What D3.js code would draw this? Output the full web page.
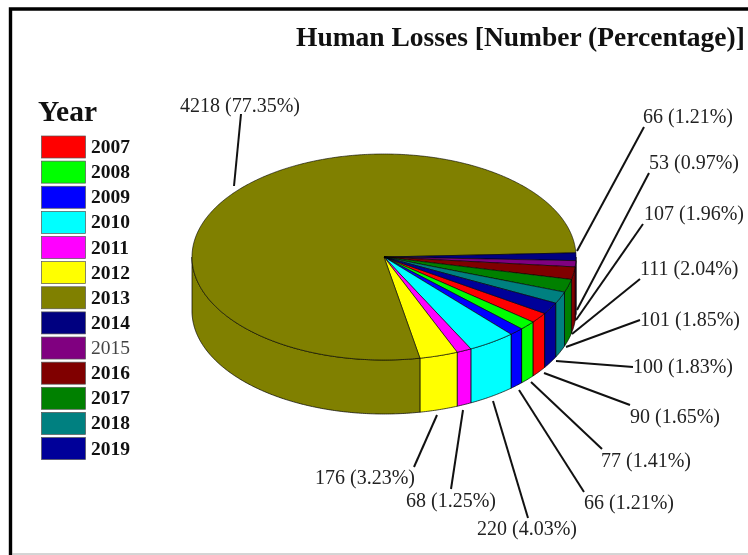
<!DOCTYPE html>
<html>
<head>
<meta charset="utf-8">
<script src="https://cdnjs.cloudflare.com/ajax/libs/d3/7.8.5/d3.min.js"></script>
<style>
  html, body { margin: 0; background: #fff; }
  svg { display: block; filter: blur(0.35px); }
  text { font-family: "Liberation Serif", serif; }
</style>
</head>
<body>
<div id="chart"></div>
<script>
const years = ["2007", "2008", "2009", "2010", "2011", "2012", "2013", "2014", "2015", "2016", "2017", "2018", "2019"];
const losses = [90, 77, 66, 220, 68, 176, 4218, 66, 53, 107, 111, 101, 100];
const percents = ["1.65", "1.41", "1.21", "4.03", "1.25", "3.23", "77.35", "1.21", "0.97", "1.96", "2.04", "1.85", "1.83"];
const colors = ["#ff0000", "#00ff00", "#0000ff", "#00ffff", "#ff00ff", "#ffff00", "#808000", "#000080", "#800080", "#800000", "#008000", "#008080", "#000099"];

// label anchor (text start, baseline) and the outer and inner end of each leader
const label_pos = [[630, 423], [601, 467], [584, 509], [477, 535], [406, 507], [315, 484], [180, 112], [643, 123], [649, 169], [644, 220], [640, 275], [640, 326], [633, 373]];
const leader_out = [[630, 405], [602, 449], [584, 492], [528, 518], [451, 489], [414, 467], [241, 114], [644, 127], [649, 173], [643, 224], [640, 279], [640, 320], [633, 367]];
const leader_in = [[544, 373], [531, 382], [519, 390], [493, 401], [463, 410], [437, 415], [234, 186], [577, 251], [577, 310], [576, 320], [572, 334], [566, 347], [556, 361]];

const width = 748;
const height = 555;
const cx = 384;
const cy = 257;
const rx = 192;
const ry = 103;
const depth = 54;

const svg = d3.select("#chart")
  .append("svg")
  .attr("width", width)
  .attr("height", height);

svg.append("rect").attr("width", width).attr("height", height).attr("fill", "#fff");

// frame
svg.append("path")
  .attr("d", d3.line()([[10.5, height], [10.5, 9], [width, 9]]))
  .attr("fill", "none")
  .attr("stroke", "#000")
  .attr("stroke-width", 3.4);
svg.append("line")
  .attr("x1", 12).attr("x2", width)
  .attr("y1", 554).attr("y2", 554)
  .attr("stroke", "#aaa");

// pie, squashed into an ellipse by hand
const pie = d3.pie()
  .sort(null)
  .startAngle(123.2 * Math.PI / 180)
  .endAngle((123.2 + 360) * Math.PI / 180);
const slices = pie(losses);

const px = (a) => cx + rx * Math.sin(a);
const py = (a) => cy - ry * Math.cos(a);

const sample = (a0, a1) => {
  const n = Math.max(2, Math.ceil((a1 - a0) / 0.01));
  return d3.range(n + 1).map((i) => a0 + (a1 - a0) * i / n);
};

const wall = d3.area().x(px).y0(py).y1((a) => py(a) + depth);
const face = d3.line();

// front half of the side only
const front_start = Math.PI / 2;
const front_end = Math.PI * 1.5;

const wall_parts = [];
slices.forEach((s, i) => {
  for (const turn of [0, Math.PI * 2]) {
    const a0 = Math.max(s.startAngle, front_start + turn);
    const a1 = Math.min(s.endAngle, front_end + turn);
    if (a1 > a0) wall_parts.push({ i, a0, a1 });
  }
});

svg.append("g")
  .selectAll("path")
  .data(wall_parts)
  .enter()
  .append("path")
  .attr("d", (d) => wall(sample(d.a0, d.a1)) + "Z")
  .attr("fill", (d) => colors[d.i])
  .attr("stroke", "#000")
  .attr("stroke-width", 0.7);

svg.append("g")
  .selectAll("path")
  .data(slices)
  .enter()
  .append("path")
  .attr("d", (d) => {
    const arc_pts = sample(d.startAngle, d.endAngle).map((a) => [px(a), py(a)]);
    return face([[cx, cy], ...arc_pts]) + "Z";
  })
  .attr("fill", (d) => colors[d.index])
  .attr("stroke", "#000")
  .attr("stroke-width", 0.6);

// leaders and value labels
svg.append("g")
  .selectAll("line")
  .data(years)
  .enter()
  .append("line")
  .attr("x1", (d, i) => leader_in[i][0])
  .attr("y1", (d, i) => leader_in[i][1])
  .attr("x2", (d, i) => leader_out[i][0])
  .attr("y2", (d, i) => leader_out[i][1])
  .attr("stroke", "#111")
  .attr("stroke-width", 2);

svg.append("g")
  .selectAll("text")
  .data(years)
  .enter()
  .append("text")
  .attr("x", (d, i) => label_pos[i][0])
  .attr("y", (d, i) => label_pos[i][1])
  .attr("font-size", 20)
  .attr("fill", "#222")
  .text((d, i) => `${ losses[i] } (${ percents[i] }%)`);

// title
svg.append("text")
  .attr("x", 296)
  .attr("y", 46)
  .attr("font-size", 27.5)
  .attr("font-weight", "bold")
  .attr("fill", "#111")
  .text("Human Losses [Number (Percentage)]");

// legend
svg.append("text")
  .attr("x", 38)
  .attr("y", 121)
  .attr("font-size", 29.5)
  .attr("font-weight", "bold")
  .attr("fill", "#111")
  .text("Year");

const legend_y = d3.scaleBand()
  .domain(years)
  .range([135, 135 + 25.13 * years.length]);

const legend = svg.append("g")
  .selectAll("g")
  .data(years)
  .enter()
  .append("g")
  .attr("transform", (d) => `translate(0, ${ legend_y(d) })`);

legend.append("rect")
  .attr("x", 41.5)
  .attr("y", 1)
  .attr("width", 44)
  .attr("height", 22)
  .attr("fill", (d, i) => colors[i])
  .attr("stroke", "#555")
  .attr("stroke-width", 0.7);

legend.append("text")
  .attr("x", 91)
  .attr("y", 18)
  .attr("font-size", 19.5)
  .attr("font-weight", (d) => d === "2015" ? "normal" : "bold")
  .attr("fill", (d) => d === "2015" ? "#444" : "#111")
  .text((d) => d);
</script>
</body>
</html>
